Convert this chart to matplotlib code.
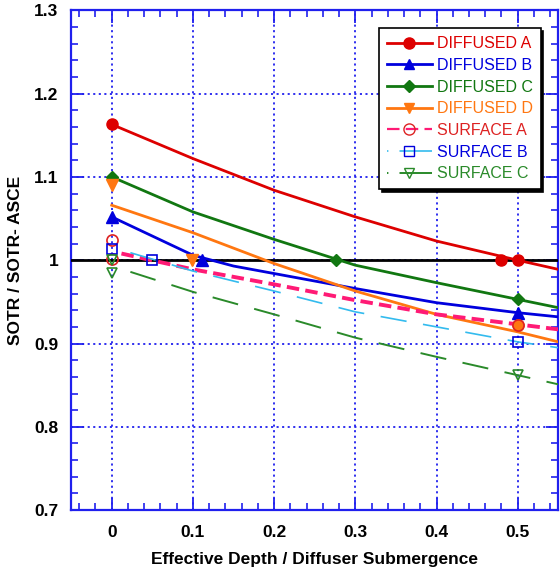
import matplotlib
matplotlib.use('Agg')
import matplotlib.pyplot as plt
from matplotlib.ticker import MultipleLocator

plt.rcParams['font.family'] = ['Liberation Sans', 'DejaVu Sans']
plt.rcParams['lines.scale_dashes'] = False

# curve data (x = effective depth / diffuser submergence)
xs = [0.0, 0.1, 0.2, 0.3, 0.4, 0.5, 0.55]
diffused_a = [1.163, 1.122, 1.084, 1.052, 1.023, 1.000, 0.989]
diffused_b_x = [0.0, 0.05, 0.1, 0.15, 0.2, 0.3, 0.4, 0.5, 0.55]
diffused_b = [1.052, 1.029, 1.006, 0.993, 0.984, 0.966, 0.949, 0.937, 0.932]
diffused_c = [1.100, 1.058, 1.025, 0.994, 0.973, 0.953, 0.943]
diffused_d = [1.066, 1.033, 0.996, 0.963, 0.935, 0.914, 0.902]

surf_x = [0.012, 0.1, 0.2, 0.3, 0.4, 0.5, 0.55]
surface_a = [1.008, 0.989, 0.971, 0.952, 0.935, 0.923, 0.917]
surf_bc_x = [0.023, 0.1, 0.2, 0.3, 0.4, 0.5, 0.55]
surface_b = [1.009, 0.987, 0.963, 0.938, 0.920, 0.902, 0.895]
surface_c = [0.986, 0.962, 0.935, 0.907, 0.884, 0.862, 0.851]

# measured points (markers)
pts_a_x, pts_a_y = [0.0, 0.479, 0.5], [1.163, 1.0, 1.0]
pts_b_x, pts_b_y = [0.0, 0.111, 0.5], [1.052, 1.0, 0.937]
pts_c_x, pts_c_y = [0.0, 0.276, 0.5], [1.100, 1.0, 0.953]
pts_d_x, pts_d_y = [0.0, 0.099], [1.090, 1.0]
pts_d2_x, pts_d2_y = [0.5], [0.922]
pts_sa_x, pts_sa_y = [0.0, 0.0, 0.5], [1.024, 1.002, 0.922]
pts_sb_x, pts_sb_y = [0.0, 0.05, 0.5], [1.014, 1.0, 0.902]
pts_sc_x, pts_sc_y = [0.0, 0.0, 0.5], [1.0, 0.985, 0.862]

red = '#dd0000'
blue = '#0000dd'
green = '#117711'
orange = '#ff7711'
pink = '#ff1a75'
cyan = '#33bbee'
sgreen = '#2a8a2a'
gridblue = '#2020ee'

fig = plt.figure(figsize=(5.6, 5.7), dpi=100)
ax = fig.add_axes([0.127, 0.105, 0.870, 0.877])

ax.axhline(1.0, color='black', lw=2, zorder=3)

# curves
ax.plot(xs, diffused_a, color=red, lw=2, zorder=4)
ax.plot(diffused_b_x, diffused_b, color=blue, lw=2, zorder=4)
ax.plot(xs, diffused_c, color=green, lw=2, zorder=4)
ax.plot(xs, diffused_d, color=orange, lw=2, zorder=4)
ax.plot(surf_x, surface_a, color=pink, lw=2.8, dashes=(9, 4.5), zorder=4)
ax.plot(surf_bc_x, surface_b, color=cyan, lw=1.2, dashes=(19, 12), zorder=4)
ax.plot(surf_bc_x, surface_c, color=sgreen, lw=1.4, dashes=(19, 12), zorder=4)

# markers
ax.plot(pts_a_x, pts_a_y, 'o', color=red, ms=8, zorder=5)
ax.plot(pts_b_x, pts_b_y, '^', color=blue, ms=8, zorder=5)
ax.plot(pts_c_x, pts_c_y, 'D', color=green, ms=6.5, zorder=5)
ax.plot(pts_d_x, pts_d_y, 'v', color=orange, ms=8, zorder=5)
ax.plot(pts_d2_x, pts_d2_y, 'o', color=orange, ms=8, zorder=5)
ax.plot(pts_sa_x, pts_sa_y, 'o', mfc='none', mec='#dd2222', mew=1.2, ms=8, zorder=6)
ax.plot(pts_sb_x, pts_sb_y, 's', mfc='none', mec=blue, mew=1.2, ms=7, zorder=6)
ax.plot(pts_sc_x, pts_sc_y, 'v', mfc='none', mec=sgreen, mew=1.2, ms=7, zorder=6)

# legend handles
h = []
h.append(ax.plot([], [], '-o', color=red, lw=2, ms=8)[0])
h.append(ax.plot([], [], '-^', color=blue, lw=2, ms=7)[0])
h.append(ax.plot([], [], '-D', color=green, lw=2, ms=6)[0])
h.append(ax.plot([], [], '-v', color=orange, lw=2, ms=7)[0])
h.append(ax.plot([], [], 'o', ls=(0, (9, 4.5)), color=pink, mfc='none', mec='#dd2222', lw=1.6, ms=8)[0])
h.append(ax.plot([], [], 's', ls=(0, (1, 8, 30, 1)), color=cyan, mfc='none', mec=blue, lw=1.2, ms=7)[0])
h.append(ax.plot([], [], 'v', ls=(0, (1, 8, 30, 1)), color=sgreen, mfc='none', mec=sgreen, lw=1.4, ms=7)[0])
labels = ['DIFFUSED A', 'DIFFUSED B', 'DIFFUSED C', 'DIFFUSED D',
          'SURFACE A', 'SURFACE B', 'SURFACE C']
label_colors = [red, blue, green, orange, '#dd2222', blue, sgreen]
leg = ax.legend(h, labels, loc='upper right', bbox_to_anchor=(0.98, 0.98),
                fontsize=11.5, handlelength=2.8, handletextpad=0.3,
                labelspacing=0.42, borderpad=0.5, fancybox=False,
                shadow={'color': 'black', 'alpha': 1}, framealpha=1,
                edgecolor='black')
leg.get_frame().set_linewidth(1.2)
for t, c in zip(leg.get_texts(), label_colors):
    t.set_color(c)
leg.set_zorder(10)

# axes
ax.set_xlim(-0.05, 0.55)
ax.set_ylim(0.7, 1.3)
ax.xaxis.set_major_locator(MultipleLocator(0.1))
ax.xaxis.set_minor_locator(MultipleLocator(0.02))
ax.yaxis.set_major_locator(MultipleLocator(0.1))
ax.yaxis.set_minor_locator(MultipleLocator(0.02))
ax.set_xticks([0, 0.1, 0.2, 0.3, 0.4, 0.5])
ax.set_xticklabels(['0', '0.1', '0.2', '0.3', '0.4', '0.5'])
ax.set_yticks([0.7, 0.8, 0.9, 1.0, 1.1, 1.2, 1.3])
ax.set_yticklabels(['0.7', '0.8', '0.9', '1', '1.1', '1.2', '1.3'])

ax.grid(True, which='major', color=gridblue, ls=(0, (1.5, 2.5)), lw=1.3)
ax.tick_params(which='both', direction='in', top=True, right=True, color=gridblue)
ax.tick_params(which='major', length=9, width=1.3)
ax.tick_params(which='minor', length=5, width=1.2)
ax.tick_params(axis='x', which='major', pad=11)
ax.tick_params(axis='y', which='major', pad=9)
for lab in ax.get_xticklabels() + ax.get_yticklabels():
    lab.set_fontweight('bold')
    lab.set_fontsize(12.5)
for s in ax.spines.values():
    s.set_color(gridblue)
    s.set_linewidth(1.6)

ax.set_xlabel('Effective Depth / Diffuser Submergence', fontsize=12.5, fontweight='bold', labelpad=8)
ax.set_ylabel('SOTR / SOTR- ASCE', fontsize=12.5, fontweight='bold', labelpad=8)

fig.savefig('out.png', dpi=100)
